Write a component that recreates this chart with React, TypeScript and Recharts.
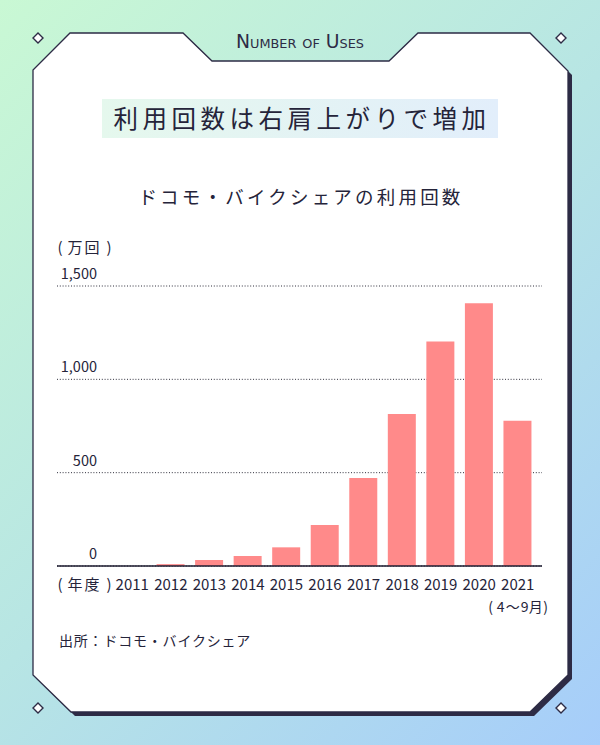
import React from 'react';
import { BarChart, Bar, XAxis, YAxis, CartesianGrid } from 'recharts';

const years = ['2011', '2012', '2013', '2014', '2015', '2016', '2017', '2018', '2019', '2020', '2021'];
const uses = [0, 10, 32, 54, 100, 219, 471, 814, 1203, 1407, 778];
const yTicks = [0, 500, 1000, 1500];
const periodNotes = ['', '', '', '', '', '', '', '', '', '', '(4〜9月)'];

const data = years.map((year, i) => ({ year, uses: uses[i] }));

const FONT = '"Noto Sans CJK JP", "Noto Sans", sans-serif';
const INK = '#25243a';
const FRAME = '#2d2b45';

const framePts: [number, number][] = [
  [70, 33], [183, 33], [212, 61], [389, 61], [418, 33], [530, 33], [568, 71],
  [568, 675], [530, 712], [71, 712], [33, 675], [33, 70],
];
const ptsStr = (dx: number, dy: number) => framePts.map(([x, y]) => `${x + dx},${y + dy}`).join(' ');

const diamonds: [number, number][] = [[38, 38], [561, 38], [38, 708], [561, 708]];

// lays out a short label one glyph at a time (centers given as offsets)
function Glyphs({ x, y, text, offsets, size = 14 }: { x: number; y: number; text: string; offsets: number[]; size?: number }) {
  const chars = Array.from(text);
  return (
    <g>
      {chars.map((c, i) => (
        <text key={i} x={x + offsets[i]} y={y} textAnchor="middle" fontSize={size} fill={INK} fontFamily={FONT}>
          {c}
        </text>
      ))}
    </g>
  );
}

function YTick(props: any) {
  const { y, payload } = props;
  return (
    <text x={97} y={y - 7} textAnchor="end" fontSize={14.5} fill={INK} fontFamily={FONT}>
      {Number(payload.value).toLocaleString('en-US')}
    </text>
  );
}

function XTick(props: any) {
  const { x, y, payload, index } = props;
  const note = periodNotes[index];
  return (
    <g>
      <text x={x} y={y + 24} textAnchor="middle" fontSize={15} fill={INK} fontFamily={FONT}>
        {payload.value}
      </text>
      {note ? <Glyphs x={x} y={y + 46} text={note} offsets={[-27, -17, -5, 7, 18, 28]} /> : null}
    </g>
  );
}

export default function App() {
  return (
    <div
      style={{
        position: 'absolute',
        left: 0,
        top: 0,
        width: 600,
        height: 745,
        background: 'linear-gradient(135deg, #c9f8d4 0%, #b7e5e4 50%, #a6cdfa 100%)',
        overflow: 'hidden',
        fontFamily: FONT,
      }}
    >
      <svg width={600} height={745} style={{ position: 'absolute', left: 0, top: 0 }}>
        <defs>
          <linearGradient id="titleBg" x1="0" y1="0" x2="1" y2="0">
            <stop offset="0%" stopColor="#e5f8ed" />
            <stop offset="100%" stopColor="#e2eefb" />
          </linearGradient>
        </defs>
        <polygon points={ptsStr(4, 4)} fill={FRAME} />
        <polygon points={ptsStr(0, 0)} fill="#ffffff" stroke={FRAME} strokeWidth={1.3} strokeLinejoin="miter" />
        {diamonds.map(([cx, cy], i) => (
          <polygon
            key={i}
            points={`${cx},${cy - 5} ${cx + 5},${cy} ${cx},${cy + 5} ${cx - 5},${cy}`}
            fill="#ffffff"
            stroke={FRAME}
            strokeWidth={1.4}
          />
        ))}
        <text
          x={236}
          y={48}
          textLength={128}
          lengthAdjust="spacingAndGlyphs"
          fontSize={19}
          fill={FRAME}
          fontFamily='"DejaVu Sans Condensed", "DejaVu Sans", sans-serif'
          style={{ fontVariant: 'small-caps' }}
        >
          Number of Uses
        </text>
        <rect x={102} y={99} width={396} height={39} fill="url(#titleBg)" />
        <text x={302} y={128} textAnchor="middle" fontSize={24.5} fill={INK} fontFamily={FONT} letterSpacing={4.5}>
          利用回数は右肩上がりで増加
        </text>
        <text x={301} y={204} textAnchor="middle" fontSize={18.5} fill={INK} fontFamily={FONT} letterSpacing={3.2}>
          ドコモ・バイクシェアの利用回数
        </text>
        <Glyphs x={57} y={253} text="(万回)" offsets={[3, 18, 35, 52]} size={15} />
        <Glyphs x={57} y={590} text="(年度)" offsets={[3, 18, 35, 52]} size={15} />
        <text x={59} y={646} fontSize={14} fill={INK} fontFamily={FONT} letterSpacing={0.8}>
          出所：ドコモ・バイクシェア
        </text>
      </svg>
      <div style={{ position: 'absolute', left: 0, top: 0 }}>
        <BarChart
          width={600}
          height={620}
          data={data}
          margin={{ top: 286, right: 58, bottom: 24, left: 56 }}
        >
          <CartesianGrid vertical={false} stroke="#2f2f3c" strokeDasharray="1 1.8" />
          <YAxis
            width={1}
            domain={[0, 1500]}
            ticks={yTicks}
            axisLine={false}
            tickLine={false}
            tick={(p: any) => <YTick {...p} />}
            interval={0}
          />
          <XAxis
            dataKey="year"
            height={30}
            padding={{ left: 56, right: 5 }}
            axisLine={{ stroke: '#1e1d30', strokeWidth: 1.5 }}
            tickLine={false}
            tickSize={0}
            tickMargin={0}
            interval={0}
            tick={(p: any) => <XTick {...p} />}
          />
          <Bar dataKey="uses" fill="#ff8a8a" barSize={28} isAnimationActive={false} />
        </BarChart>
      </div>
    </div>
  );
}
